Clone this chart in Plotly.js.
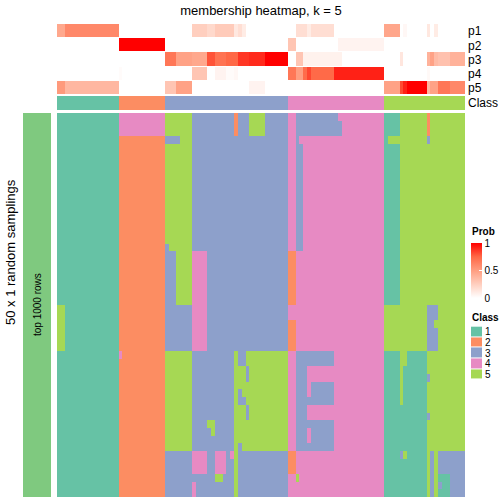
<!DOCTYPE html>
<html>
<head>
<meta charset="utf-8">
<script src="https://cdn.plot.ly/plotly-3.0.1.min.js"></script>
<style>html,body{margin:0;padding:0;background:#fff;}#chart{width:504px;height:504px;}</style>
</head>
<body>
<div id="chart"></div>
<script>
// ---- data ----
const title = "membership heatmap, k = 5";
const annoLabels = ["p1", "p2", "p3", "p4", "p5"];
const classLabels = ["1", "2", "3", "4", "5"];
const classColors = ["#66C2A5", "#FC8D62", "#8DA0CB", "#E78AC3", "#A6D854"];

// membership probabilities per sample (106 columns)
const p1 = [0.45,0.45, 0.6,0.6,0.6,0.6,0.6,0.6,0.6,0.6,0.6,0.6,0.6,0.6,0.6,0.6,
  0,0,0,0,0,0,0,0,0,0,0,0, 0,0,0,0,0,0,0, 0.25,0.25,0.25,0.25, 0.2,0.2, 0.27,0.27,0.27,0.27,0.27, 0.12, 0.17, 0.1,
  0,0,0,0,0,0,0,0,0,0,0, 0,0, 0.17,0.17,0.17, 0.1, 0.17,0.17,0.17,0.17,0.17,0.17,
  0,0,0,0,0,0,0,0,0,0,0,0,0, 0.46,0.46,0.46,0.46, 0, 0.04, 0,0,0,0,0, 0.12, 0, 0.1, 0,0,0,0,0,0,0];
const p2 = [0,0,0,0,0,0,0,0,0,0,0,0,0,0,0,0,
  1,1,1,1,1,1,1,1,1,1,1,1,
  0,0,0,0,0,0,0,0,0,0,0,0,0,0,0,0,0,0,0,0,0,0,0,0,0,0,0,0,0,0,0,0,
  0.3,0.3, 0,0,0,0,0,0,0,0,0,0,0, 0.06,0.06,0.06,0.06,0.06,0.06,0.06,0.06,0.06,0.06,0.06,0.06,
  0,0,0,0,0,0,0,0,0,0,0,0,0,0,0,0,0,0,0,0,0];
const p3 = [0,0,0,0,0,0,0,0,0,0,0,0,0,0,0,0, 0,0,0,0,0,0,0,0,0,0,0,0,
  0.68,0.68,0.68, 0.48,0.48,0.48,0.48, 0.45,0.45,0.45,0.45, 0.8,0.8, 0.7,0.7,0.7, 0.75,0.75,0.75, 0.87,0.87,0.87,
  0.9,0.9,0.9,0.9, 1,1,1,1,1,1,
  0,0, 0.3,0.3, 0.07,0.07,0.07,0.07,0.07,0.07,0.07,0.07,0.07,0.07, 0,0,0,0,0,0,0,0,0,0,0,
  0,0,0,0, 0.13, 0,0,0,0,0,0, 0.4, 0.48, 0.35, 0.32,0.32,0.32, 0.4,0.4,0.4,0.4];
const p4 = [0,0,0,0,0,0,0,0,0,0,0,0,0,0,0,0, 0.02,0,0,0,0,0,0,0,0,0,0,0,
  0,0,0,0,0,0,0, 0.3,0.3,0.3,0.3, 0,0, 0.06,0.06,0.06, 0.02,0.02, 0.04, 0,0,0,0,0,0,0,0,0,0,0,0,0,
  0.68,0.68, 0.5, 0.5, 0.73, 0.83, 0.74,0.74,0.74,0.74,0.74,0.74,
  0.92,0.92,0.92,0.92,0.92,0.92,0.92,0.92,0.92,0.92,0.92,0.92,0.92,
  0,0,0,0,0,0,0,0,0,0,0, 0.03, 0,0,0,0,0,0,0,0,0];
const p5 = [0.52,0.52, 0.37,0.37,0.37,0.37,0.37,0.37,0.37,0.37,0.37,0.37,0.37,0.37,0.37,0.37,
  0,0,0,0,0,0,0,0,0,0,0,0, 0.3,0.3,0.3, 0.48,0.48,0.48,0.48,
  0,0,0,0,0,0,0,0,0,0,0,0,0,0,0, 0.06,0.06,0.06,0.06,
  0,0,0,0,0,0,0,0,0,0,0,0,0,0,0,0,0,0,0,0,0,0,0,0,0,0,0,0,0,0,0,
  0.48,0.48,0.48,0.48, 0.82, 0.92, 1,1,1,1,1, 0.37, 0.48,0.48, 0.68,0.68,0.68, 0.6,0.6,0.6,0.6];

// consensus class per sample
const sampleClass =
  "1111111111111111 222222222222 33333333333333333333333333333333 4444444444444444444444444 555555555555555555555";

// class label of every sample in each of the 50 random samplings
const samplingRows = [
 "11 11111111111111 4 44444444444 5 55 5 555 3 333 3 3 33 3 3 3 2 3 3 3 5555 333333 44 3 3 3 3 333333 3 4 44444444444 1 111 5 5 55555 2 5 5 5 55 5555",
 "11 11111111111111 4 44444444444 5 55 5 555 3 333 3 3 33 3 3 3 2 3 3 3 5555 333333 44 3 3 3 3 333333 3 3 44444444444 1 111 5 5 55555 2 5 5 5 55 5555",
 "11 11111111111111 4 44444444444 5 55 5 555 3 333 3 3 33 3 3 3 2 3 3 3 5555 333333 44 3 3 3 3 333333 3 3 44444444444 1 111 5 5 55555 2 5 5 5 55 5555",
 "11 11111111111111 2 22222222222 3 33 3 555 3 333 3 3 33 3 3 3 3 3 3 3 3333 333333 44 3 4 4 4 444444 4 4 44444444444 1 555 5 5 55555 3 5 5 5 55 5555",
 "11 11111111111111 2 22222222222 5 55 5 555 3 333 3 3 33 3 3 3 3 3 3 3 3333 333333 44 3 3 4 4 444444 4 4 44444444444 1 111 5 5 55555 5 5 5 5 55 5555",
 "11 11111111111111 2 22222222222 5 55 5 555 3 333 3 3 33 3 3 3 3 3 3 3 3333 333333 44 3 3 4 4 444444 4 4 44444444444 1 111 5 5 55555 5 5 5 5 55 5555",
 "11 11111111111111 2 22222222222 5 55 5 555 3 333 3 3 33 3 3 3 3 3 3 3 3333 333333 44 3 3 4 4 444444 4 4 44444444444 1 111 5 5 55555 5 5 5 5 55 5555",
 "11 11111111111111 2 22222222222 5 55 5 555 3 333 3 3 33 3 3 3 3 3 3 3 3333 333333 44 3 3 4 4 444444 4 4 44444444444 1 111 5 5 55555 5 5 5 5 55 5555",
 "11 11111111111111 2 22222222222 5 55 5 555 3 333 3 3 33 3 3 3 3 3 3 3 3333 333333 44 3 3 4 4 444444 4 4 44444444444 1 111 5 5 55555 5 5 5 5 55 5555",
 "11 11111111111111 2 22222222222 5 55 5 555 3 333 3 3 33 3 3 3 3 3 3 3 3333 333333 44 3 3 4 4 444444 4 4 44444444444 1 111 5 5 55555 5 5 5 5 55 5555",
 "11 11111111111111 2 22222222222 5 55 5 555 3 333 3 3 33 3 3 3 3 3 3 3 3333 333333 44 3 3 4 4 444444 4 4 44444444444 1 111 5 5 55555 5 5 5 5 55 5555",
 "11 11111111111111 2 22222222222 5 55 5 555 3 333 3 3 33 3 3 3 3 3 3 3 3333 333333 44 3 3 4 4 444444 4 4 44444444444 1 111 5 5 55555 5 5 5 5 55 5555",
 "11 11111111111111 2 22222222222 5 55 5 555 3 333 3 3 33 3 3 3 3 3 3 3 3333 333333 44 3 3 4 4 444444 4 4 44444444444 1 111 5 5 55555 5 5 5 5 55 5555",
 "11 11111111111111 2 22222222222 5 55 5 555 3 333 3 3 33 3 3 3 3 3 3 3 3333 333333 44 3 3 4 4 444444 4 4 44444444444 1 111 5 5 55555 5 5 5 5 55 5555",
 "11 11111111111111 2 22222222222 5 55 5 555 3 333 3 3 33 3 3 3 3 3 3 3 3333 333333 44 3 3 4 4 444444 4 4 44444444444 1 111 5 5 55555 5 5 5 5 55 5555",
 "11 11111111111111 2 22222222222 5 55 5 555 3 333 3 3 33 3 3 3 3 3 3 3 3333 333333 44 3 3 4 4 444444 4 4 44444444444 1 111 5 5 55555 5 5 5 5 55 5555",
 "11 11111111111111 2 22222222222 5 55 5 555 3 333 3 3 33 3 3 3 3 3 3 3 3333 333333 44 3 3 4 4 444444 4 4 44444444444 1 111 5 5 55555 5 5 5 5 55 5555",
 "11 11111111111111 2 22222222222 3 55 5 555 3 333 3 3 33 3 3 3 3 3 3 3 3333 333333 44 3 3 4 4 444444 4 4 44444444444 1 111 5 5 55555 5 5 5 5 55 5555",
 "11 11111111111111 2 22222222222 3 33 5 555 4 444 3 3 33 3 3 3 3 3 3 3 3333 333333 22 4 4 4 4 444444 4 4 44444444444 1 111 5 5 55555 5 5 5 5 55 5555",
 "11 11111111111111 2 22222222222 3 33 5 555 4 444 3 3 33 3 3 3 3 3 3 3 3333 333333 22 4 4 4 4 444444 4 4 44444444444 1 111 5 5 55555 5 5 5 5 55 5555",
 "11 11111111111111 2 22222222222 3 33 5 555 4 444 3 3 33 3 3 3 3 3 3 3 3333 333333 22 4 4 4 4 444444 4 4 44444444444 1 111 5 5 55555 5 5 5 5 55 5555",
 "11 11111111111111 2 22222222222 3 33 5 555 4 444 3 3 33 3 3 3 3 3 3 3 3333 333333 22 4 4 4 4 444444 4 4 44444444444 1 111 5 5 55555 5 5 5 5 55 5555",
 "11 11111111111111 2 22222222222 3 33 5 555 4 444 3 3 33 3 3 3 3 3 3 3 3333 333333 22 4 4 4 4 444444 4 4 44444444444 1 111 5 5 55555 5 5 5 5 55 5555",
 "11 11111111111111 2 22222222222 3 33 5 555 4 444 3 3 33 3 3 3 3 3 3 3 3333 333333 22 4 4 4 4 444444 4 4 44444444444 1 111 5 5 55555 5 5 5 5 55 5555",
 "11 11111111111111 2 22222222222 3 33 5 555 4 444 3 3 33 3 3 3 3 3 3 3 3333 333333 22 4 4 4 4 444444 4 4 44444444444 1 111 5 5 55555 5 5 5 5 55 5555",
 "55 11111111111111 2 22222222222 3 33 3 333 4 444 3 3 33 3 3 3 3 3 3 3 3333 333333 44 4 4 4 4 444444 4 4 44444444444 5 555 5 5 55555 3 3 3 5 55 5555",
 "55 11111111111111 2 22222222222 3 33 3 333 4 444 3 3 33 3 3 3 3 3 3 3 3333 333333 44 4 4 4 4 444444 4 4 44444444444 5 555 5 5 55555 3 3 3 5 55 5555",
 "55 11111111111111 2 22222222222 3 33 3 333 4 444 3 3 33 3 3 3 3 3 3 3 3333 333333 22 4 4 4 4 444444 4 4 44444444444 5 555 5 5 55555 3 3 5 5 55 5555",
 "55 11111111111111 2 22222222222 3 33 3 333 4 444 3 3 33 3 3 3 3 3 3 3 3333 333333 22 4 4 4 4 444444 4 4 44444444444 5 555 5 5 55555 3 3 3 5 55 5555",
 "55 11111111111111 2 22222222222 3 33 3 333 4 444 3 3 33 3 3 3 3 3 3 3 3333 333333 22 4 4 4 4 444444 4 4 44444444444 5 555 5 5 55555 3 3 3 5 55 5555",
 "55 11111111111111 2 22222222222 3 33 3 333 4 444 3 3 33 3 3 3 3 3 3 3 3333 333333 22 4 4 4 4 444444 4 4 44444444444 5 555 5 5 55555 3 3 3 5 55 5555",
 "11 11111111111111 4 22222222222 5 55 5 555 3 333 3 3 33 3 3 3 5 3 3 5 5555 555555 44 3 3 3 3 333333 4 4 44444444444 1 111 5 5 11111 5 5 5 5 55 5555",
 "11 11111111111111 2 22222222222 5 55 5 555 3 333 3 3 33 3 3 3 5 3 3 5 5555 555555 44 3 3 3 3 333333 4 4 44444444444 1 111 5 5 11111 5 5 5 5 55 5555",
 "11 11111111111111 2 22222222222 5 55 5 555 3 333 3 3 33 3 3 3 5 5 5 3 5555 555555 44 3 3 3 4 444444 4 4 44444444444 1 111 5 1 11111 5 5 5 5 55 5555",
 "11 11111111111111 2 22222222222 5 55 5 555 3 333 3 3 33 3 3 3 5 5 5 3 5555 555555 44 3 3 3 4 444444 4 4 44444444444 1 111 5 1 11111 3 5 5 5 55 5555",
 "11 11111111111111 2 22222222222 5 55 5 555 3 333 3 3 33 3 3 3 5 5 5 5 5555 555555 44 3 3 3 4 333333 4 4 44444444444 1 111 5 1 11111 5 5 5 5 55 5555",
 "11 11111111111111 2 22222222222 5 55 5 555 3 333 3 3 33 3 3 3 5 3 5 5 5555 555555 44 3 3 3 4 333333 4 4 44444444444 1 111 5 1 11111 5 5 5 5 55 5555",
 "11 11111111111111 2 22222222222 5 55 5 555 3 333 3 3 33 3 3 3 5 3 3 5 5555 555555 44 3 3 3 3 333333 4 4 44444444444 1 111 5 1 11111 5 5 5 5 55 5555",
 "11 11111111111111 2 22222222222 5 55 5 555 3 333 3 3 33 3 3 3 5 5 5 3 5555 555555 44 3 3 3 4 444444 4 4 44444444444 1 111 1 1 11111 5 5 5 5 55 5555",
 "11 11111111111111 2 22222222222 5 55 5 555 3 333 3 3 33 3 3 3 5 5 5 3 5555 555555 44 3 3 3 4 444444 4 4 44444444444 1 111 1 1 11111 3 5 5 5 55 5555",
 "11 11111111111111 2 22222222222 5 55 5 555 3 333 5 5 33 3 3 3 5 5 5 5 5555 555555 44 3 3 3 3 333333 4 4 44444444444 1 111 1 1 11111 5 5 5 5 55 5555",
 "11 11111111111111 2 22222222222 5 55 5 555 3 333 3 5 33 3 3 3 5 5 5 5 5555 555555 44 3 3 3 4 333333 4 4 44444444444 1 111 1 1 11111 5 5 5 5 55 5555",
 "11 11111111111111 2 22222222222 5 55 5 555 3 333 3 3 33 3 3 3 5 5 5 5 5555 555555 44 3 3 3 4 333333 4 4 44444444444 1 111 1 1 11111 5 5 5 5 55 5555",
 "11 11111111111111 2 22222222222 5 55 5 555 3 333 3 3 33 3 3 3 5 3 5 5 5555 555555 44 3 3 3 3 333333 4 4 44444444444 1 111 1 1 11111 5 5 5 5 55 5555",
 "11 11111111111111 2 22222222222 3 33 3 333 4 444 3 3 44 4 3 4 5 3 3 3 3333 333333 22 4 4 4 4 444444 4 4 44444444444 1 111 3 5 11111 5 3 5 3 33 3333",
 "11 11111111111111 2 22222222222 3 33 3 333 4 444 3 3 44 4 3 3 5 3 3 3 3333 333333 22 4 4 4 4 444444 4 4 44444444444 1 111 1 1 11111 5 3 5 3 33 3333",
 "11 11111111111111 2 22222222222 3 33 3 333 4 444 3 3 44 4 3 3 5 3 3 3 3333 333333 22 4 4 4 4 444444 4 4 44444444444 1 111 1 1 11111 5 3 5 3 33 3333",
 "11 11111111111111 2 22222222222 3 33 3 333 3 333 3 3 55 3 3 3 5 3 3 3 3333 333333 44 5 4 4 4 444444 4 4 44444444444 1 111 1 1 11111 5 3 5 1 11 3333",
 "11 11111111111111 2 22222222222 3 33 3 333 4 333 3 3 33 3 3 3 5 3 3 3 3333 333333 44 4 4 4 4 444444 4 4 44444444444 1 111 1 1 11111 5 3 5 3 11 3333",
 "11 11111111111111 2 22222222222 3 33 3 333 4 333 3 3 33 3 3 3 5 3 3 3 3333 333333 44 4 4 4 4 444444 4 4 44444444444 1 111 1 1 11111 5 3 5 1 11 3333"
];

// ---- build ----
const toNums = s => s.replace(/\s+/g, "").split("").map(Number);
const mainZ = samplingRows.map(toNums);
const classZ = [toNums(sampleClass)];
const nCol = classZ[0].length;
const xIdx = Array.from({length: nCol}, (_, i) => i);

const discrete = [];
classColors.forEach((c, i) => { discrete.push([i / 5, c]); discrete.push([(i + 1) / 5, c]); });
const probScale = [[0, "#FFFFFF"], [0.25, "#FFCFBF"], [0.5, "#FF9E81"], [0.75, "#FF6846"], [1, "#FF0000"]];

const W = 504, H = 504;
const px = v => v / W;
const py = v => 1 - v / H;
const FONT = "Liberation Sans, Arial, Helvetica, sans-serif";

const traces = [
  { type: "heatmap", z: mainZ, x: xIdx, y: mainZ.map((_, i) => i), xaxis: "x", yaxis: "y",
    colorscale: discrete, zmin: 0.5, zmax: 5.5, showscale: false, hoverinfo: "skip" },
  { type: "heatmap", z: [p1, p2, p3, p4, p5], x: xIdx, y: [0, 1, 2, 3, 4], xaxis: "x", yaxis: "y2",
    colorscale: probScale, zmin: 0, zmax: 1, ygap: 1, hoverinfo: "skip", showscale: true,
    colorbar: { x: px(471), xanchor: "left", xpad: 0, y: py(243), yanchor: "top", ypad: 0,
      len: 55, lenmode: "pixels", thickness: 11, thicknessmode: "pixels", outlinewidth: 0,
      tickvals: [0, 0.5, 1], ticktext: ["0", "0.5", "1"], ticks: "inside", tickcolor: "#FFFFFF",
      ticklen: 3, tickwidth: 1, tickfont: { family: FONT, size: 10, color: "#000" } } },
  { type: "heatmap", z: classZ, x: xIdx, y: [0], xaxis: "x", yaxis: "y3",
    colorscale: discrete, zmin: 0.5, zmax: 5.5, showscale: false, hoverinfo: "skip" },
  { type: "heatmap", z: [[0]], x: [0], y0: 24.5, dy: 50, xaxis: "x2", yaxis: "y",
    colorscale: [[0, "#7FC97F"], [1, "#7FC97F"]], showscale: false, hoverinfo: "skip" },
  { type: "heatmap", z: classLabels.map(l => [Number(l)]), x: [0], y: classLabels.map((_, i) => i),
    xaxis: "x3", yaxis: "y4", colorscale: discrete, zmin: 0.5, zmax: 5.5, ygap: 1,
    showscale: false, hoverinfo: "skip" }
];

const hidden = { visible: false, fixedrange: true };
const layout = {
  width: W, height: H, margin: { l: 0, r: 0, t: 0, b: 0 },
  paper_bgcolor: "#FFFFFF", plot_bgcolor: "rgba(0,0,0,0)",
  font: { family: FONT, color: "#000" },
  showlegend: false,
  title: { text: title, x: px(261), xanchor: "center", y: py(10), yanchor: "middle",
    font: { family: FONT, size: 13, color: "#000" } },
  xaxis: Object.assign({}, hidden, { domain: [px(57), px(465)], range: [-0.5, nCol - 0.5] }),
  xaxis2: Object.assign({}, hidden, { domain: [px(23), px(51)], range: [-0.5, 0.5], anchor: "y" }),
  xaxis3: Object.assign({}, hidden, { domain: [px(471), px(482)], range: [-0.5, 0.5], anchor: "y4" }),
  yaxis: Object.assign({}, hidden, { domain: [py(497), py(113)], range: [mainZ.length - 0.5, -0.5], anchor: "x" }),
  yaxis2: { domain: [py(95), py(24)], range: [4.5, -0.5], anchor: "x", side: "right",
    showgrid: false, zeroline: false, showline: false, ticks: "", fixedrange: true,
    tickvals: [0, 1, 2, 3, 4], ticktext: annoLabels, ticklabelstandoff: 2,
    tickfont: { family: FONT, size: 12, color: "#000" } },
  yaxis3: { domain: [py(110), py(96)], range: [0.5, -0.5], anchor: "x", side: "right",
    showgrid: false, zeroline: false, showline: false, ticks: "", fixedrange: true,
    tickvals: [0], ticktext: ["Class"], ticklabelstandoff: 2,
    tickfont: { family: FONT, size: 12, color: "#000" } },
  yaxis4: { domain: [py(379.6), py(326.4)], range: [4.5, -0.5], anchor: "x3", side: "right",
    showgrid: false, zeroline: false, showline: false, ticks: "", fixedrange: true,
    tickvals: [0, 1, 2, 3, 4], ticktext: classLabels, ticklabelstandoff: 2,
    tickfont: { family: FONT, size: 10, color: "#000" } },
  annotations: [
    { text: "top 1000 rows", xref: "paper", yref: "paper", x: px(37), y: py(305),
      xanchor: "center", yanchor: "middle", textangle: -90, showarrow: false,
      font: { family: FONT, size: 10, color: "#000" } },
    { text: "50 x 1 random samplings", xref: "paper", yref: "paper", x: px(10), y: py(252),
      xanchor: "center", yanchor: "middle", textangle: -90, showarrow: false,
      font: { family: FONT, size: 13, color: "#000" } },
    { text: "<b>Prob</b>", xref: "paper", yref: "paper", x: px(470), y: py(232),
      xanchor: "left", yanchor: "middle", showarrow: false,
      font: { family: FONT, size: 10, color: "#000" } },
    { text: "<b>Class</b>", xref: "paper", yref: "paper", x: px(470), y: py(317),
      xanchor: "left", yanchor: "middle", showarrow: false,
      font: { family: FONT, size: 10, color: "#000" } }
  ]
};

Plotly.newPlot("chart", traces, layout, { displayModeBar: false, staticPlot: true });
</script>
</body>
</html>
